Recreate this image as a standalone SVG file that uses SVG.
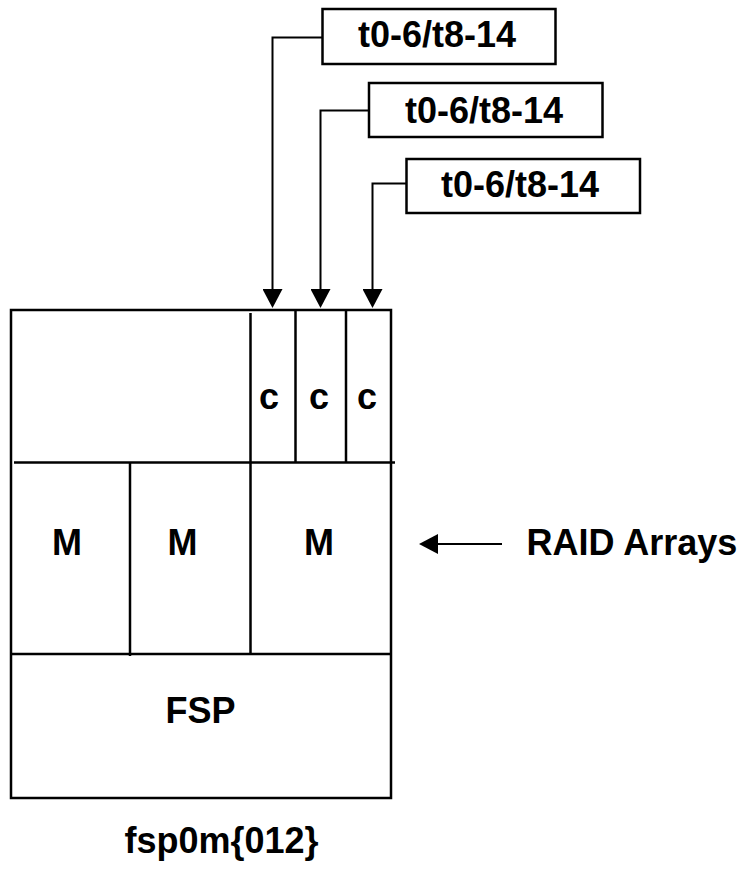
<svg xmlns="http://www.w3.org/2000/svg" width="752" height="870" viewBox="0 0 752 870">
  <style>
    .ln { stroke: #000; stroke-width: 2.5; fill: none; }
    .cn { stroke: #000; stroke-width: 2; fill: none; }
    .box { stroke: #000; stroke-width: 2.5; fill: #fff; }
    .t { font-family: "Liberation Sans", Arial, sans-serif; font-weight: bold; font-size: 36px; fill: #000; }
  </style>
  <defs>
    <marker id="head" markerUnits="userSpaceOnUse" markerWidth="20" markerHeight="20" refX="0" refY="10" orient="auto" viewBox="0 0 19 20">
      <path d="M0,0 L19,10 L0,20 z" fill="#000"/>
    </marker>
  </defs>
  <rect width="752" height="870" fill="#fff"/>

  <!-- storage enclosure layout -->
  <g id="enclosure">
    <rect class="ln" x="11" y="310" width="380" height="488"/>
    <line class="ln" x1="14" y1="462.5" x2="395" y2="462.5"/>
    <line class="ln" x1="11" y1="654" x2="391" y2="654"/>
    <line class="ln" x1="250.5" y1="313" x2="250.5" y2="654"/>
    <line class="ln" x1="295.5" y1="310" x2="295.5" y2="462"/>
    <line class="ln" x1="346" y1="310" x2="346" y2="462"/>
    <line class="ln" x1="130" y1="462" x2="130" y2="656"/>
  </g>

  <g id="c-cells">
    <text class="t" x="269" y="409" text-anchor="middle">c</text>
    <text class="t" x="319" y="409" text-anchor="middle">c</text>
    <text class="t" x="367" y="409" text-anchor="middle">c</text>
  </g>

  <g id="m-cells">
    <text class="t" x="67" y="555" text-anchor="middle">M</text>
    <text class="t" x="182.5" y="555" text-anchor="middle">M</text>
    <text class="t" x="319" y="555" text-anchor="middle">M</text>
  </g>

  <g id="fsp">
    <text class="t" x="200.5" y="723" text-anchor="middle">FSP</text>
  </g>

  <g id="host-label">
    <text class="t" x="221.5" y="853" text-anchor="middle">fsp0m{012}</text>
  </g>

  <g id="raid-label">
    <text class="t" x="526.5" y="555">RAID Arrays</text>
  </g>

  <!-- target range labels -->
  <g id="targets-1">
    <rect class="box" x="322.5" y="9" width="233" height="55"/>
    <text class="t" x="437" y="47" text-anchor="middle">t0-6/t8-14</text>
  </g>
  <g id="targets-2">
    <rect class="box" x="369" y="83" width="233.5" height="54"/>
    <text class="t" x="484" y="123" text-anchor="middle">t0-6/t8-14</text>
  </g>
  <g id="targets-3">
    <rect class="box" x="406.5" y="159" width="233.5" height="54"/>
    <text class="t" x="520" y="197" text-anchor="middle">t0-6/t8-14</text>
  </g>

  <g id="connectors">
    <path class="cn" d="M322.5,37.5 H272.5 V289" marker-end="url(#head)"/>
    <path class="cn" d="M369,110.5 H320.5 V289" marker-end="url(#head)"/>
    <path class="cn" d="M406.5,183.5 H372.5 V289" marker-end="url(#head)"/>
    <path class="cn" d="M502,544 H438" marker-end="url(#head)"/>
  </g>
</svg>
